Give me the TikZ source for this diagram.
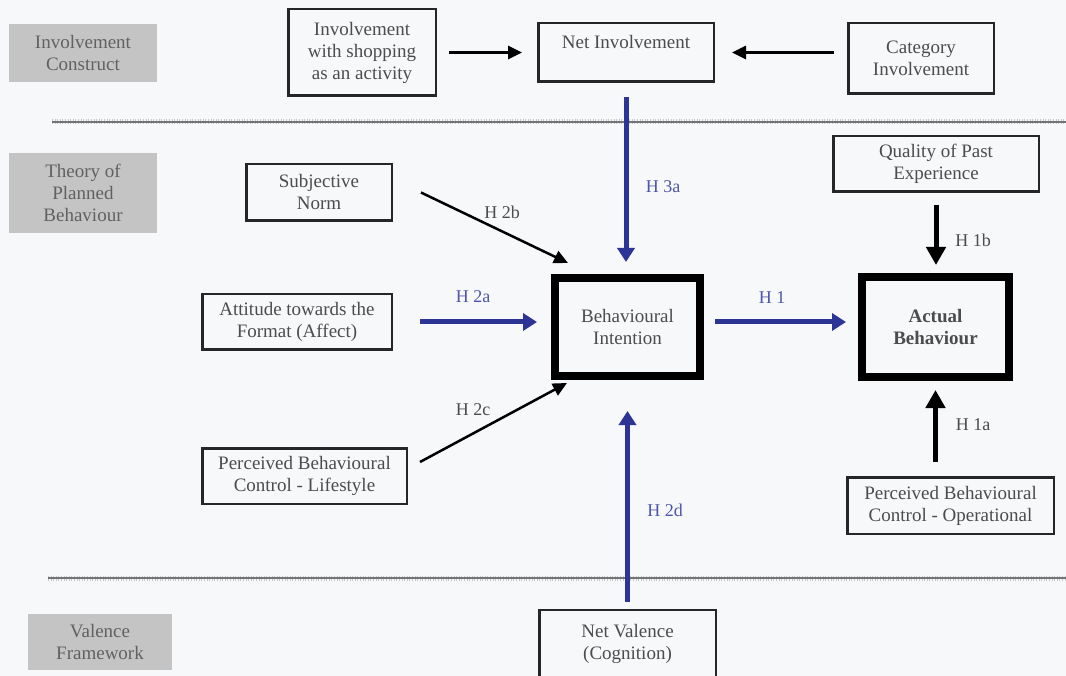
\documentclass[tikz,border=0pt]{standalone}
\usepackage{fontspec}
\setmainfont{Liberation Serif}
\usetikzlibrary{arrows.meta}
\definecolor{hypblue}{RGB}{44,52,150}
\definecolor{hyptext}{RGB}{78,86,170}
\definecolor{paper}{RGB}{246,248,250}
\definecolor{bandgray}{RGB}{196,196,196}

\begin{document}
\begin{tikzpicture}[x=1pt, y=-1pt,
    every node/.style={font=\fontsize{19}{22}\selectfont, text=black!70, align=center, inner sep=0pt},
    band/.style={fill=bandgray, text=black!62},
    box/.style={draw=black!85, line width=2.5pt},
    strongbox/.style={draw=black, line width=8pt},
    hyp/.style={font=\fontsize{18}{20}\selectfont, text=black!70},
    bluehyp/.style={hyp, text=hyptext},
    bluearrow/.style={draw=hypblue, line width=5pt, -{Triangle[length=14pt,width=17pt]}},
    thinarrow/.style={draw=black, line width=2.5pt, -{Triangle[length=14pt,width=13pt]}},
    thickarrow/.style={draw=black, line width=5pt, -{Triangle[length=18pt,width=19pt]}},
    septicks/.style={draw=black!22, line width=5pt, dash pattern=on 1pt off 1.6pt},
    sep/.style={draw=black!55, line width=1.6pt}]
  \useasboundingbox (0,0) rectangle (1066,676);
  \clip (0,0) rectangle (1066,676);
  \fill[paper] (0,0) rectangle (1066,676);

  % row labels
  \node[band, minimum width=148pt, minimum height=58pt] (invband) at (83,53) {Involvement\\Construct};
  \node[band, minimum width=148pt, minimum height=80pt] (tpbband) at (83,193) {Theory of\\Planned\\Behaviour};
  \node[band, minimum width=144pt, minimum height=56pt] (valband) at (100,642) {Valence\\Framework};

  \foreach \y/\x in {122/52, 578/48} {
    \draw[septicks] (\x,\y) -- (1066,\y);
    \draw[sep] (\x,\y) -- (1066,\y);
  }

  % involvement construct
  \node[box, minimum width=147.5pt, minimum height=86.5pt] (shop) at (362,52.5) {Involvement\\with shopping\\as an activity};
  \node[box, minimum width=175.5pt, minimum height=58.5pt] (netinv) at (626,52.5) {Net Involvement\\~};
  \node[box, minimum width=145.5pt, minimum height=70.5pt] (cat) at (921,58.5) {Category\\Involvement};

  % theory of planned behaviour
  \node[box, minimum width=145.5pt, minimum height=56.5pt] (snorm) at (319,192.5) {Subjective\\Norm};
  \node[box, minimum width=189.5pt, minimum height=55.5pt] (attit) at (297,322) {Attitude towards the\\Format (Affect)};
  \node[box, minimum width=204.5pt, minimum height=55.5pt] (life) at (304.5,476) {Perceived Behavioural\\Control - Lifestyle};
  \node[strongbox, minimum width=145pt, minimum height=98pt] (binten) at (627.5,327) {Behavioural\\Intention};
  \node[strongbox, minimum width=147pt, minimum height=100pt] (actual) at (935.5,327) {\bfseries Actual\\\bfseries Behaviour};
  \node[box, minimum width=205.5pt, minimum height=55.5pt] (quality) at (936,164) {Quality of Past\\Experience};
  \node[box, minimum width=206.5pt, minimum height=56.5pt] (operat) at (950.5,505.5) {Perceived Behavioural\\Control - Operational};

  % valence framework
  \node[box, minimum width=176.5pt, minimum height=86.5pt] (netval) at (627.5,653) {Net Valence\\(Cognition)\\~};

  % connectors
  \draw[thinarrow, line width=3pt, shorten <=12pt, shorten >=15pt] (shop) -- (netinv);
  \draw[thinarrow, line width=3pt, shorten <=13pt, shorten >=17pt] (cat.west |- netinv) -- (netinv.east);
  \draw[bluearrow, shorten <=14pt, shorten >=12pt] (netinv.south) -- (netinv.south |- binten.north);
  \draw[thinarrow] ([xshift=28pt]snorm.east) -- ([xshift=17pt,yshift=11pt]binten.north west);
  \draw[bluearrow, shorten <=27pt, shorten >=14pt] (attit.east) -- (attit.east -| binten.west);
  \draw[thinarrow] ([xshift=12pt,yshift=14pt]life.east) -- ([xshift=16pt,yshift=-3pt]binten.south west);
  \draw[bluearrow, shorten <=7pt, shorten >=31pt] (netval.north) -- (netval.north |- binten.south);
  \draw[bluearrow, shorten <=11pt, shorten >=12pt] ([yshift=5pt]binten.east) -- ([yshift=5pt]binten.east -| actual.west);
  \draw[thickarrow, shorten <=12pt, shorten >=8pt] (quality.south) -- (quality.south |- actual.north);
  \draw[thickarrow, shorten <=14pt, shorten >=9pt] (actual.south |- operat.north) -- (actual.south);

  % hypothesis labels
  \node[bluehyp] (h3a) at (663,187) {H 3a};
  \node[hyp] (h2b) at (502,212) {H 2b};
  \node[bluehyp] (h2a) at (473,297) {H 2a};
  \node[hyp] (h2c) at (473,410) {H 2c};
  \node[bluehyp] (h2d) at (665,510) {H 2d};
  \node[bluehyp] (h1) at (772,298) {H 1};
  \node[hyp] (h1b) at (973,240) {H 1b};
  \node[hyp] (h1a) at (973,425) {H 1a};
\end{tikzpicture}
\end{document}
